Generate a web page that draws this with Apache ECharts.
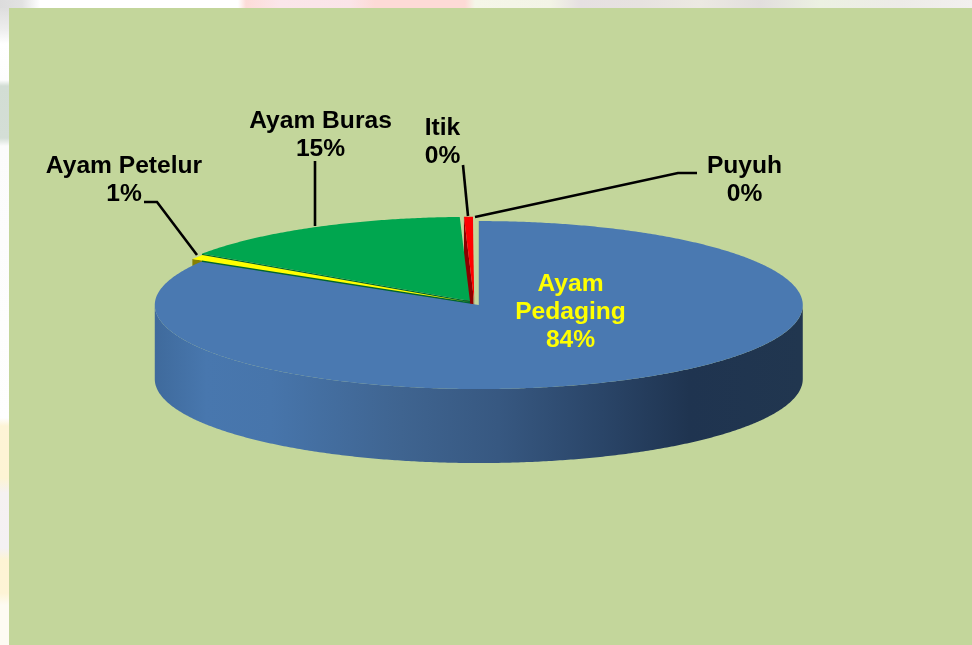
<!DOCTYPE html>
<html><head><meta charset="utf-8">
<style>html,body{margin:0;padding:0;background:#fff}#c{width:972px;height:645px}</style>
<script src="https://cdn.jsdelivr.net/npm/echarts@6/dist/echarts.min.js"></script>
</head><body><div id="c"></div>
<script>
const categories = ['Ayam Pedaging', 'Ayam Petelur', 'Ayam Buras', 'Itik', 'Puyuh'];
const values = [83.6, 0.9, 15.0, 0.45, 0.05];
const colors = ['#4a79b1', '#ffff00', '#00a64f', '#ff0000', '#c9d9a4'];
const wallColors = ['#24405f', '#878000', '#00652f', '#8a0000', '#b0c088'];
const explode = [0.028, 0.015, 0.028, 0.028, 0.028];

const BASE = {x: 474.3, y: 303, rx: 324, ry: 84, depth: 74};
const total = values.reduce((a, b) => a + b, 0);
const DEG = Math.PI / 180;

// start/end angle of each slice, clockwise from 12 o'clock
const spans = [];
values.reduce((acc, v) => { const a = acc + v / total * 360; spans.push([acc, a]); return a; }, 0);

function rim(c, t) { return [c.x + BASE.rx * Math.sin(t * DEG), c.y - BASE.ry * Math.cos(t * DEG)]; }
function arc(c, a, b) {
  const n = Math.max(2, Math.ceil(Math.abs(b - a) * 2)), pts = [];
  for (let i = 0; i <= n; i++) pts.push(rim(c, a + (b - a) * i / n));
  return pts;
}
function centerOf(i) {
  const m = (spans[i][0] + spans[i][1]) / 2;
  return {x: BASE.x + explode[i] * BASE.rx * Math.sin(m * DEG), y: BASE.y - explode[i] * BASE.ry * Math.cos(m * DEG)};
}
const down = p => [p[0], p[1] + BASE.depth];

// label text placement and leaders
const labelCenters = [[570.5, 312.5], [124, 180], [320.5, 135], [442.5, 142.5], [744.5, 180.5]];
const leaders = [null,
  [[144, 202], [157, 202], [197, 255]],
  [[315, 161], [315, 226]],
  [[463, 165], [468, 216]],
  [[697, 173], [678, 173], [475, 217]]];
const labelLines = i => i === 0
  ? ['Ayam', 'Pedaging', Math.round(values[i] / total * 100) + '%']
  : [categories[i], Math.round(values[i] / total * 100) + '%'];

const FONT = '"Liberation Sans", Arial, sans-serif';

function renderItem(params, api) {
  const i = params.dataIndex, [a, b] = spans[i], c = centerOf(i), ch = [];
  const front = i === 0;
  if (front) {
    const top = arc(c, 90, 270);
    ch.push({type: 'polygon', z2: 30, shape: {points: top.concat(top.slice().reverse().map(down))},
      style: {fill: new echarts.graphic.LinearGradient(0, 0, 1, 0, [
        {offset: 0, color: '#3f6a9c'}, {offset: 0.08, color: '#4877ae'}, {offset: 0.18, color: '#4775ab'},
        {offset: 0.38, color: '#3f6490'}, {offset: 0.53, color: '#375881'}, {offset: 0.69, color: '#2a4568'},
        {offset: 0.825, color: '#1f3450'}, {offset: 1, color: '#21364f'}])}});
  } else if (a > 270) {
    const r = rim(c, a), ap = [c.x, c.y];
    ch.push({type: 'polygon', z2: 10 + (4 - (i === 1 ? 3 : i === 2 ? 0 : 1)),
      shape: {points: [ap, r, down(r), down(ap)]}, style: {fill: wallColors[i]}});
  }
  ch.push({type: 'polygon', z2: front ? 40 : 20,
    shape: {points: [[c.x, c.y]].concat(arc(c, a, b))}, style: {fill: colors[i]}});
  if (leaders[i]) ch.push({type: 'polyline', z2: 50, shape: {points: leaders[i]},
    style: {fill: null, stroke: '#000', lineWidth: 2.6}});
  const lines = labelLines(i), lh = 27.8, [lx, ly] = labelCenters[i];
  lines.forEach((t, k) => ch.push({type: 'text', z2: 60, x: lx, y: ly + (k - (lines.length - 1) / 2) * lh,
    style: {text: t, font: 'bold 24.6px ' + FONT, fill: front ? '#ffff00' : '#000', align: 'center', verticalAlign: 'middle'}}));
  return {type: 'group', children: ch};
}

const stops = (list, size) => list.map(([p, color]) => ({offset: p / size, color}));
const chart = echarts.init(document.getElementById('c'), null, {renderer: 'canvas'});
chart.setOption({
  animation: false,
  backgroundColor: '#ffffff',
  graphic: [
    {type: 'rect', z: 0, shape: {x: 0, y: 0, width: 972, height: 8}, style: {fill: new echarts.graphic.LinearGradient(0, 0, 1, 0, stops([
      [0, '#dcdcdc'], [22, '#e2e2e2'], [40, '#ffffff'], [238, '#ffffff'], [246, '#fddcd8'], [280, '#fbe6ea'],
      [350, '#fbe4e8'], [375, '#fddad6'], [465, '#fddad6'], [475, '#f5f6e8'], [550, '#f3f4e6'], [580, '#e6e0e2'],
      [640, '#e7e2e0'], [700, '#ece9e2'], [760, '#e2dedd'], [820, '#ecf1e2'], [900, '#edebe8'], [972, '#f2f0ee']], 972))}},
    {type: 'rect', z: 0, shape: {x: 0, y: 8, width: 9, height: 637}, style: {fill: new echarts.graphic.LinearGradient(0, 0, 0, 1, stops([
      [0, '#dedede'], [22, '#eeeeee'], [36, '#ffffff'], [72, '#fdfdfd'], [78, '#d2ddd4'], [130, '#d4ded6'], [138, '#fbfbfb'],
      [410, '#fefefe'], [418, '#fdf4d6'], [470, '#fdf4d4'], [485, '#f5f1f1'], [540, '#f4f1f3'], [552, '#fdf4d4'],
      [585, '#fdf4d6'], [597, '#fdfbf2'], [637, '#fdfbf2']], 637))}},
    {type: 'rect', z: 1, shape: {x: 9, y: 8, width: 963, height: 637}, style: {fill: '#c3d69b'}}
  ],
  series: [{
    type: 'custom', coordinateSystem: 'none', z: 5, silent: true, clip: false,
    data: values.map((v, i) => ({name: categories[i], value: v})),
    renderItem
  }]
});
</script></body></html>
